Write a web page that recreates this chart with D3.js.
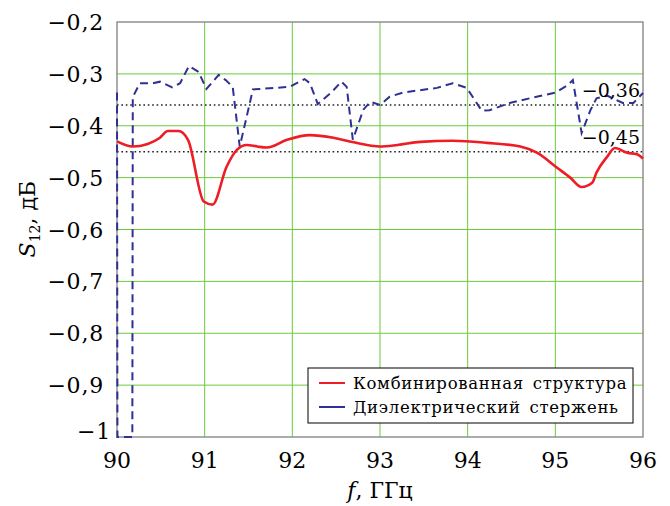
<!DOCTYPE html>
<html>
<head>
<meta charset="utf-8">
<script src="https://cdn.jsdelivr.net/npm/d3@7"></script>
<style>
  body { margin: 0; background: #fff; }
  svg text { font-family: "DejaVu Serif", "Liberation Serif", serif; fill: #000; }
</style>
</head>
<body>
<script>
// частота, ГГц
var xTicks = [90, 91, 92, 93, 94, 95, 96];
var yTicks = [-1, -0.9, -0.8, -0.7, -0.6, -0.5, -0.4, -0.3, -0.2];

// Комбинированная структура
var combF = [90, 90.18, 90.35, 90.49, 90.58, 90.7, 90.81, 90.99, 91.09, 91.25, 91.37, 91.48, 91.6, 91.71,
  91.94, 92.2, 92.47, 92.7, 93.0, 93.2, 93.46, 93.83, 94.22, 94.6, 94.79, 95.02, 95.17, 95.3, 95.42,
  95.47, 95.59, 95.68, 95.82, 95.93, 96.0];
var combS = [-0.43, -0.44, -0.435, -0.423, -0.41, -0.41, -0.427, -0.546, -0.552, -0.479, -0.446, -0.437, -0.44, -0.442,
  -0.427, -0.418, -0.423, -0.432, -0.44, -0.437, -0.431, -0.429, -0.433, -0.44, -0.452, -0.481, -0.5, -0.518, -0.51,
  -0.49, -0.46, -0.443, -0.452, -0.455, -0.463];

// Диэлектрический стержень
var rodF = [90, 90.005, 90.175, 90.18, 90.26, 90.41, 90.49, 90.63, 90.72, 90.82, 90.93, 91.02, 91.16, 91.24,
  91.32, 91.4, 91.48, 91.55, 91.97, 92.14, 92.2, 92.29, 92.45, 92.56, 92.62, 92.69, 92.81, 92.89, 93.0,
  93.11, 93.26, 93.65, 93.83, 93.99, 94.16, 94.25, 94.48, 94.71, 95.0, 95.13, 95.2, 95.3, 95.4, 95.47,
  95.59, 95.77, 95.89, 96.0];
var rodS = [-0.336, -1, -1, -0.345, -0.318, -0.318, -0.315, -0.326, -0.318, -0.285, -0.296, -0.329, -0.302, -0.312,
  -0.325, -0.44, -0.382, -0.33, -0.325, -0.31, -0.318, -0.358, -0.335, -0.315, -0.325, -0.427, -0.369, -0.354, -0.36,
  -0.344, -0.336, -0.327, -0.318, -0.327, -0.371, -0.37, -0.356, -0.347, -0.336, -0.323, -0.312, -0.414, -0.37, -0.347,
  -0.342, -0.356, -0.356, -0.337];

var refLevels = [-0.36, -0.45];
var refLabels = ["\u22120,36", "\u22120,45"];
var legendNames = ["Комбинированная структура", "Диэлектрический стержень"];
var colors = ["#ee1c24", "#2e3192"];

var width = 670, height = 506;
var margin = {left: 117, right: 27, top: 22, bottom: 69};

var svg = d3.select("body").append("svg")
  .attr("width", width)
  .attr("height", height)
  .attr("font-family", "DejaVu Serif, serif");

var x = d3.scaleLinear().domain([90, 96]).range([margin.left, width - margin.right]);
var y = d3.scaleLinear().domain([-1, -0.2]).range([height - margin.bottom, margin.top]);

function fmt(v) {
  var s = d3.format("")(Math.round(v * 10) / 10).replace(".", ",");
  return s.replace("-", "\u2212");
}

// сетка
var grid = svg.append("g");
grid.selectAll(".gx").data(xTicks.slice(1, -1)).enter().append("line")
  .attr("x1", d => x(d)).attr("x2", d => x(d))
  .attr("y1", y(-1)).attr("y2", y(-0.2))
  .attr("stroke", "#6ccb3c").attr("stroke-width", 1);
grid.selectAll(".gy").data(yTicks.slice(1, -1)).enter().append("line")
  .attr("x1", x(90)).attr("x2", x(96))
  .attr("y1", d => y(d)).attr("y2", d => y(d))
  .attr("stroke", "#6ccb3c").attr("stroke-width", 1);

// рамка
svg.append("rect")
  .attr("x", x(90)).attr("y", y(-0.2))
  .attr("width", x(96) - x(90)).attr("height", y(-1) - y(-0.2))
  .attr("fill", "none").attr("stroke", "#808080").attr("stroke-width", 1.3);

// подписи осей (тики)
svg.append("g").selectAll("text").data(yTicks).enter().append("text")
  .attr("x", d => d === -1 ? x(90) - 6 : x(90) - 13)
  .attr("y", d => d === -1 ? y(d) + 2 : y(d) + 8)
  .attr("text-anchor", "end")
  .attr("font-size", 22)
  .attr("letter-spacing", 0.8)
  .text(d => fmt(d));

svg.append("g").selectAll("text").data(xTicks).enter().append("text")
  .attr("x", d => x(d))
  .attr("y", y(-1) + 31)
  .attr("text-anchor", "middle")
  .attr("font-size", 22)
  .text(d => d);

// опорные уровни
svg.append("g").selectAll("line").data(refLevels).enter().append("line")
  .attr("x1", x(90)).attr("x2", x(96))
  .attr("y1", d => y(d)).attr("y2", d => y(d))
  .attr("stroke", "#222").attr("stroke-width", 1.4)
  .attr("stroke-dasharray", "1.6,2.8");

svg.append("clipPath").attr("id", "clip").append("rect")
  .attr("x", x(90) - 2).attr("y", y(-0.2))
  .attr("width", x(96) - x(90) + 4).attr("height", y(-1) - y(-0.2) + 2);

var line = d3.line().x(d => x(d[0])).y(d => y(d[1])).curve(d3.curveMonotoneX);
var lineRod = d3.line().x(d => x(d[0])).y(d => y(d[1]));

svg.append("path")
  .datum(rodF.map((f, i) => [f, rodS[i]]))
  .attr("d", lineRod)
  .attr("clip-path", "url(#clip)")
  .attr("fill", "none").attr("stroke", colors[1]).attr("stroke-width", 2)
  .attr("stroke-dasharray", "8,5");

svg.append("path")
  .datum(combF.map((f, i) => [f, combS[i]]))
  .attr("d", line)
  .attr("fill", "none").attr("stroke", colors[0]).attr("stroke-width", 2.6)
  .attr("stroke-linejoin", "round");

svg.append("g").selectAll("text").data(refLevels).enter().append("text")
  .attr("x", x(96) - 3)
  .attr("y", d => y(d) - 8)
  .attr("text-anchor", "end")
  .attr("font-size", 19)
  .text((d, i) => refLabels[i]);

// легенда
var lg = svg.append("g");
lg.append("rect")
  .attr("x", 308).attr("y", 368).attr("width", 325).attr("height", 55)
  .attr("fill", "#fff").attr("stroke", "#000").attr("stroke-width", 1);
legendNames.forEach(function(n, i) {
  var yy = 383 + i * 24;
  lg.append("line").attr("x1", 319).attr("x2", 345).attr("y1", yy).attr("y2", yy)
    .attr("stroke", colors[i]).attr("stroke-width", 2);
  lg.append("text").attr("x", 353).attr("y", yy + 6)
    .attr("font-size", 16.5)
    .attr("letter-spacing", 0.7)
    .attr("word-spacing", 3)
    .text(n);
});

// названия осей
var xl = svg.append("text")
  .attr("x", x(93)).attr("y", 498)
  .attr("text-anchor", "middle").attr("font-size", 22);
xl.append("tspan").attr("font-style", "italic").text("f");
xl.append("tspan").text(", ГГц");

var yl = svg.append("text")
  .attr("transform", "translate(35," + y(-0.58) + ") rotate(-90)")
  .attr("text-anchor", "middle").attr("font-size", 22);
yl.append("tspan").attr("font-style", "italic").text("S");
yl.append("tspan").attr("font-size", 14).attr("dy", 5).text("12");
yl.append("tspan").attr("dy", -5).text(", дБ");
</script>
</body>
</html>
